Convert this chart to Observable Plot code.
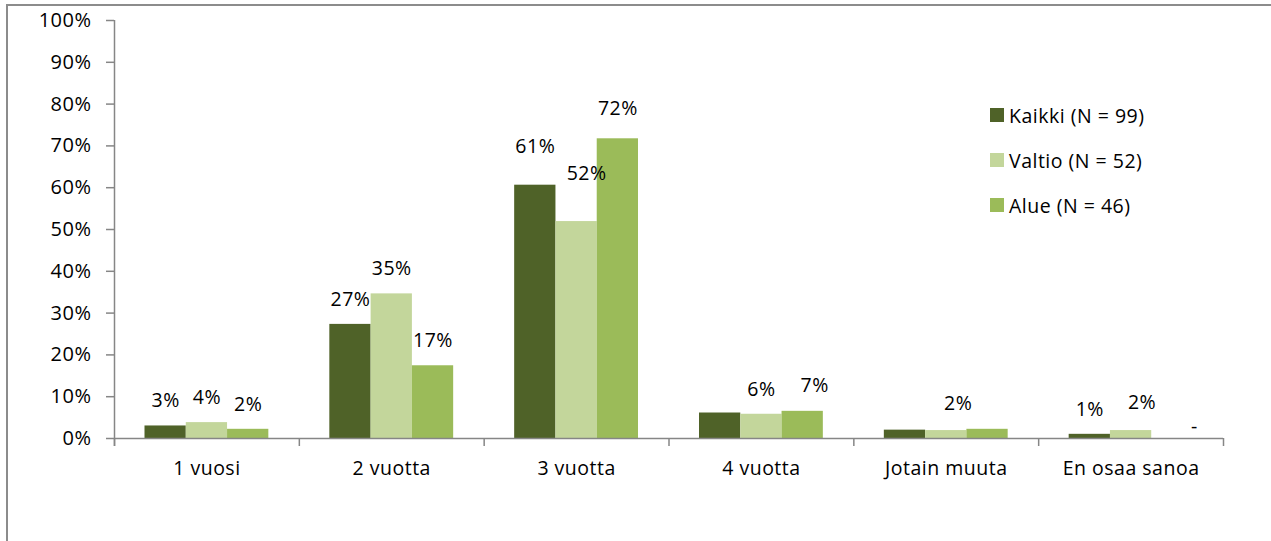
<!DOCTYPE html>
<html>
<head>
<meta charset="utf-8">
<script src="https://cdn.jsdelivr.net/npm/d3@7"></script>
<script src="https://cdn.jsdelivr.net/npm/@observablehq/plot@0.6"></script>
<style>
  html, body { margin: 0; padding: 0; background: #fff; overflow: hidden; }
  #wrap { position: relative; width: 1271px; height: 541px; }
  #border { position: absolute; left: 6px; top: 4px; width: 2000px; height: 2000px;
            border-left: 2px solid #8c8c8c; border-top: 2px solid #8c8c8c; }
  #chart { position: absolute; left: 0; top: 0; }
  #legend { position: absolute; left: 990px; top: 102px; font-family: "Open Sans", sans-serif;
            font-size: 19.5px; letter-spacing: 0.5px; color: #000; font-weight: 500; }
  .lrow { display: flex; align-items: center; height: 26px; margin-bottom: 19px; white-space: nowrap; }
  .sw { width: 14px; height: 14px; margin-right: 5px; }
  #chart svg text { font-weight: 500; }
</style>
</head>
<body>
<div id="wrap">
  <div id="border"></div>
  <div id="chart"></div>
  <div id="legend"></div>
</div>
<script>
// ---- data ----
const categories = ["1 vuosi", "2 vuotta", "3 vuotta", "4 vuotta", "Jotain muuta", "En osaa sanoa"];
const series = ["Kaikki (N = 99)", "Valtio (N = 52)", "Alue (N = 46)"];
const colors = ["#4F6228", "#C3D69B", "#9BBB59"];
const kaikki = [3.0, 27.3, 60.6, 6.1, 2.0, 1.0];
const valtio = [3.8, 34.6, 51.9, 5.8, 1.9, 1.9];
const alue   = [2.2, 17.4, 71.7, 6.5, 2.2, 0];
const kaikkiLabels = ["3%", "27%", "61%", "", "", "1%"];
const valtioLabels = ["4%", "35%", "52%", "6%", "2%", "2%"];
const alueLabels   = ["2%", "17%", "72%", "7%", "", "-"];
const yTicks = [0, 10, 20, 30, 40, 50, 60, 70, 80, 90, 100];

const seriesValues = [kaikki, valtio, alue];
const seriesLabels = [kaikkiLabels, valtioLabels, alueLabels];

const rows = categories.flatMap((c, i) => series.map((s, j) => ({
  category: c, series: s, j, value: seriesValues[j][i], label: seriesLabels[j][i]
})));

// ---- layout ----
const W = 1271, H = 541, ML = 114, MR = 48, MT = 20, MB = 103;
const bw = (W - ML - MR) / categories.length;
const pad = 30.5;
const barW = (bw - 2 * pad) / 3;
const axisColor = "#868686";

// label nudges (Excel placed a few labels differently)
function nudge(r) {
  const key = r.j + "|" + r.category;
  const map = {
    "0|3 vuotta": [0, -38],
    "1|3 vuotta": [10, -48],
    "2|3 vuotta": [0, -30],
    "2|4 vuotta": [12, -26],
    "1|Jotain muuta": [12, -27],
    "1|En osaa sanoa": [11, -28],
    "2|En osaa sanoa": [22, -12]
  };
  return map[key] || [0, -25];
}

const barMarks = series.map((s, j) => Plot.barY(rows.filter(r => r.j === j), {
  x: "category", y: "value", fill: colors[j],
  insetLeft: pad + j * barW, insetRight: bw - pad - (j + 1) * barW
}));

const labelMarks = rows.filter(r => r.label !== "").map(r => {
  const [ndx, ndy] = nudge(r);
  return Plot.text([r], {
    x: "category", y: "value", text: "label",
    dx: (r.j - 1) * barW + ndx, dy: ndy, fill: "#000"
  });
});

const chart = Plot.plot({
  width: W, height: H,
  marginLeft: ML, marginRight: MR, marginTop: MT, marginBottom: MB,
  style: { fontFamily: "Open Sans, sans-serif", fontSize: "19.5px", letterSpacing: "0.5px",
           color: "#000", background: "transparent", overflow: "visible" },
  x: { type: "band", domain: categories, padding: 0, round: false, label: null },
  y: { domain: [0, 100], label: null },
  marks: [
    ...barMarks,
    Plot.ruleY([0], { stroke: axisColor, strokeWidth: 1.5 }),
    Plot.ruleX([categories[0]], { x: d => d, dx: -bw / 2, y1: 100, y2: 0, insetBottom: -8, stroke: axisColor, strokeWidth: 1.5 }),
    Plot.ruleX(categories, { x: d => d, dx: -bw / 2, y1: 0, y2: 0, insetBottom: -8, stroke: axisColor, strokeWidth: 1.5 }),
    Plot.ruleX([categories[categories.length - 1]], { x: d => d, dx: bw / 2, y1: 0, y2: 0, insetBottom: -8, stroke: axisColor, strokeWidth: 1.5 }),
    Plot.axisY({ ticks: yTicks, tickFormat: d => d + "%", tickSize: 8, tickPadding: 15,
                 stroke: axisColor, strokeWidth: 1.5, fill: "#000", label: null,
                 fontSize: 20, letterSpacing: "0.9px" }),
    Plot.axisX({ tickSize: 0, tickPadding: 23, fill: "#000", label: null }),
    ...labelMarks
  ]
});
document.getElementById("chart").appendChild(chart);

// legend
const legend = document.getElementById("legend");
series.forEach((s, j) => {
  const row = document.createElement("div");
  row.className = "lrow";
  const sw = document.createElement("div");
  sw.className = "sw";
  sw.style.background = colors[j];
  const t = document.createElement("span");
  t.textContent = s;
  row.appendChild(sw);
  row.appendChild(t);
  legend.appendChild(row);
});
</script>
</body>
</html>
